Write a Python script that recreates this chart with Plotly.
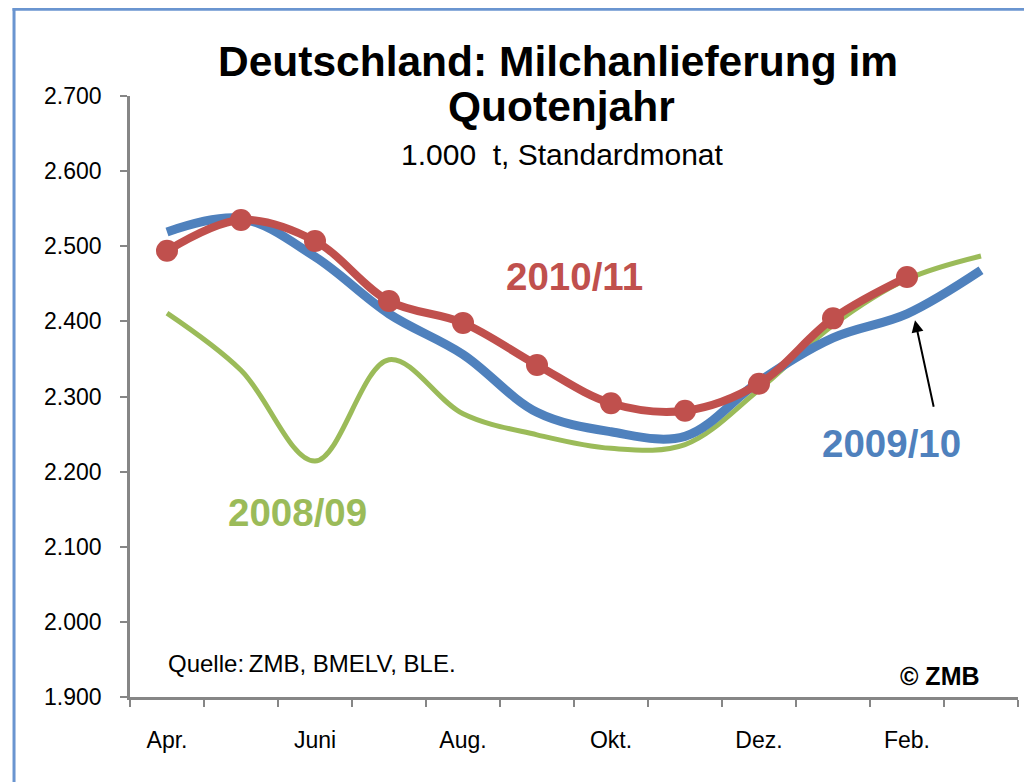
import plotly.graph_objects as go

# ---- data ----
months = ["Apr.", "Mai", "Juni", "Juli", "Aug.", "Sep.", "Okt.", "Nov.", "Dez.", "Jan.", "Feb.", "März"]
month_labels = ["Apr.", "", "Juni", "", "Aug.", "", "Okt.", "", "Dez.", "", "Feb.", ""]
y_ticks = [1900, 2000, 2100, 2200, 2300, 2400, 2500, 2600, 2700]

series_2008_09 = [2411, 2335, 2214, 2349, 2277, 2249, 2231, 2236, 2309, 2395, 2456, 2487]
series_2009_10 = [2519, 2537, 2486, 2410, 2356, 2279, 2253, 2247, 2320, 2378, 2410, 2468]
series_2010_11 = [2494, 2535, 2507, 2427, 2398, 2342, 2291, 2281, 2317, 2404, 2459]

GREEN = "#9BBB59"
BLUE = "#4F81BD"
RED = "#C0504D"
AXIS = "#868686"
FONT = "Liberation Sans, Arial, sans-serif"

fig = go.Figure()
fig.add_trace(go.Scatter(x=months, y=series_2008_09, mode="lines", name="2008/09",
                         line=dict(color=GREEN, width=5, shape="spline", smoothing=1.0)))
fig.add_trace(go.Scatter(x=months, y=series_2009_10, mode="lines", name="2009/10",
                         line=dict(color=BLUE, width=9, shape="spline", smoothing=1.0)))
fig.add_trace(go.Scatter(x=months[:len(series_2010_11)], y=series_2010_11, mode="lines+markers",
                         name="2010/11",
                         line=dict(color=RED, width=8, shape="spline", smoothing=1.0),
                         marker=dict(color=RED, size=22)))

fig.update_layout(
    width=1024, height=774,
    margin=dict(l=122, r=14, t=88, b=85),
    paper_bgcolor="white", plot_bgcolor="white",
    showlegend=False,
    separators=",.",
    font=dict(family=FONT, color="black"),
)

fig.update_xaxes(
    type="category", categoryorder="array", categoryarray=months,
    range=[-0.5, 11.5],
    tickmode="array", tickvals=months, ticktext=month_labels,
    tickson="boundaries",
    ticks="outside", ticklen=7, tickwidth=1.5, tickcolor=AXIS,
    showline=True, linecolor=AXIS, linewidth=2.5,
    showgrid=False, zeroline=False,
    tickfont=dict(size=23, color="black"),
    ticklabelstandoff=21,
)
fig.update_yaxes(
    range=[1900, 2700],
    tickmode="array", tickvals=y_ticks, tickformat=",d",
    ticks="outside", ticklen=7, tickwidth=1.5, tickcolor=AXIS,
    showline=True, linecolor=AXIS, linewidth=2.5,
    showgrid=False, zeroline=False,
    tickfont=dict(size=23, color="black"),
    ticklabelstandoff=14,
)

def ann(text, x, y, size, color="black", bold=False, xanchor="center"):
    fig.add_annotation(
        text=f"<b>{text}</b>" if bold else text,
        x=x, y=y, xref="paper", yref="paper",
        xanchor=xanchor, yanchor="middle", showarrow=False,
        font=dict(family=FONT, size=size, color=color),
    )

ann("Deutschland: Milchanlieferung im", 0.4815, 1.058, 42.5, bold=True)
ann("Quotenjahr", 0.4855, 0.983, 42.5, bold=True)
ann("1.000 \u00a0t, Standardmonat", 0.4875, 0.902, 30)
ann("2010/11", 0.5006, 0.699, 38.5, color=RED, bold=True)
ann("2009/10", 0.858, 0.4218, 38.5, color=BLUE, bold=True)
ann("2008/09", 0.189, 0.3078, 38.5, color=GREEN, bold=True)
ann("Quelle:\u2009ZMB, BMELV, BLE.", 0.040, 0.055, 24, xanchor="left")
ann("© ZMB", 0.960, 0.035, 25, bold=True, xanchor="right")

# arrow pointing at the 2009/10 line
fig.add_annotation(
    x=0.884, y=0.627, xref="paper", yref="paper",
    ax=19, ay=88, axref="pixel", ayref="pixel",
    text="", showarrow=True, arrowhead=2, arrowsize=1.2, arrowwidth=2, arrowcolor="black",
)

# chart frame (blue border on left and top)
fig.add_shape(type="line", xref="paper", yref="paper",
              x0=-0.1306, x1=-0.1306, y0=-0.5, y1=1.146,
              line=dict(color="#6A95D0", width=3))
fig.add_shape(type="line", xref="paper", yref="paper",
              x0=-0.1323, x1=1.5, y0=1.1445, y1=1.1445,
              line=dict(color="#6A95D0", width=3))

fig.write_html("out.html")
